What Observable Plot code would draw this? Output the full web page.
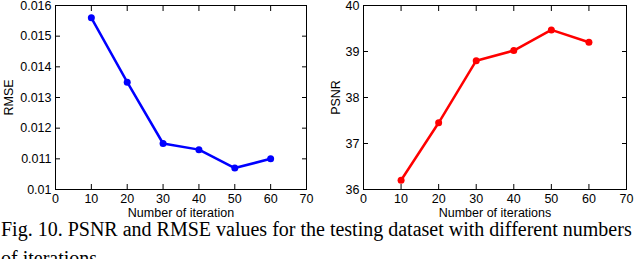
<!DOCTYPE html>
<html><head><meta charset="utf-8">
<script src="https://cdn.jsdelivr.net/npm/d3@7"></script>
<script src="https://cdn.jsdelivr.net/npm/@observablehq/plot@0.6"></script>
<style>
body{margin:0;background:#fff;width:640px;height:259px;overflow:hidden;}
#wrap{position:relative;width:640px;height:259px;overflow:hidden;}
#left{position:absolute;left:0;top:0;}
#right{position:absolute;left:320px;top:0;}
#cap{position:absolute;left:1px;top:215px;font-family:"Liberation Serif","Times New Roman",serif;font-size:20px;line-height:29px;white-space:nowrap;color:#000;}
</style></head>
<body><div id="wrap"><div id="left"></div><div id="right"></div>
<div id="cap">Fig. 10. PSNR and RMSE values for the testing dataset with different numbers<br>of iterations.</div></div>
<script>
const iterations = [10, 20, 30, 40, 50, 60];
const rmse = [0.0156, 0.0135, 0.0115, 0.0113, 0.0107, 0.0110];
const psnr = [36.2, 37.45, 38.8, 39.02, 39.47, 39.2];
const xTicks = [0, 10, 20, 30, 40, 50, 60, 70];
const rmseTicks = [0.010, 0.011, 0.012, 0.013, 0.014, 0.015, 0.016];
const psnrTicks = [36, 37, 38, 39, 40];

function panel(values, yTicks, yDomain, color, yLabel, xLabel, fmt, mL, lblOff) {
  const data = iterations.map((x, i) => ({x, y: values[i]}));
  const blank = () => "";
  return Plot.plot({
    width: 320, height: 216,
    marginLeft: mL, marginRight: 14, marginTop: 5, marginBottom: 27,
    style: {fontFamily: "'Liberation Sans', Arial, sans-serif", fontSize: "12.5px", color: "#000", background: "#fff", overflow: "visible"},
    x: {domain: [0, 70]},
    y: {domain: yDomain},
    marks: [
      Plot.frame({stroke: "#000", strokeWidth: 1}),
      Plot.axisX({anchor: "bottom", ticks: xTicks, tickSize: -5, tickPadding: 10, label: xLabel, labelAnchor: "center", labelArrow: "none", labelOffset: 27}),
      Plot.axisX({anchor: "top", ticks: xTicks, tickSize: -5, tickFormat: blank, label: null}),
      Plot.axisY({anchor: "left", ticks: yTicks, tickSize: -5, tickPadding: 9, tickFormat: fmt, label: yLabel, labelAnchor: "center", labelArrow: "none", labelOffset: lblOff}),
      Plot.axisY({anchor: "right", ticks: yTicks, tickSize: -5, tickFormat: blank, label: null}),
      Plot.line(data, {x: "x", y: "y", stroke: color, strokeWidth: 2.5}),
      Plot.dot(data, {x: "x", y: "y", fill: color, r: 3.5})
    ]
  });
}

const rmseFmt = d => { const s = d3.format(".3f")(d); return s === "0.010" ? "0.01" : s; };
document.getElementById("left").append(
  panel(rmse, rmseTicks, [0.010, 0.016], "#0000ff", "RMSE", "Number of iteration", rmseFmt, 55, 51));
document.getElementById("right").append(
  panel(psnr, psnrTicks, [36, 40], "#ff0000", "PSNR", "Number of iterations", d => String(d), 43, 32));
</script></body></html>
